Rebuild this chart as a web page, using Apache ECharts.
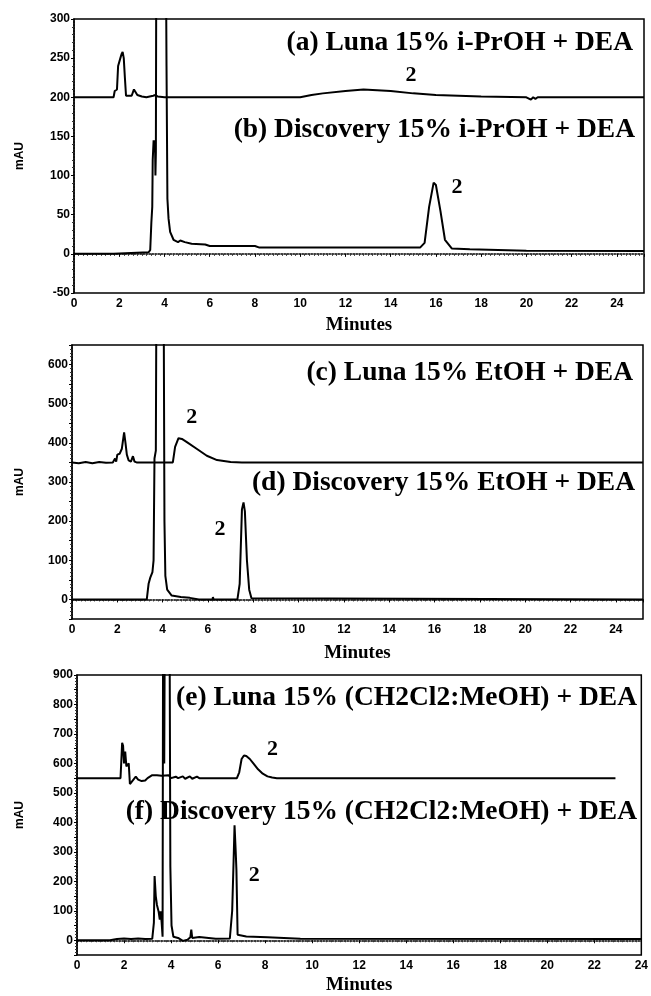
<!DOCTYPE html>
<html>
<head>
<meta charset="utf-8">
<script src="https://cdn.jsdelivr.net/npm/echarts@6/dist/echarts.min.js"></script>
<style>
html, body { margin: 0; padding: 0; background: #fff; }
#main { width: 651px; height: 996px; }
</style>
</head>
<body>
<div id="main"></div>
<script>
// chromatograms, [minutes, mAU]
const traceA = [[0,200],[1.75,200],[1.8,208],[1.9,210],[1.95,240],[2.05,250],[2.1,255],[2.15,258],[2.2,250],[2.25,225],[2.3,202],[2.55,202],[2.65,210],[2.72,212],[2.8,203],[3.0,201],[3.2,200],[3.5,202],[3.6,203],[3.7,201],[4.0,200],[10.0,200],[10.5,203],[11,205],[12,208],[12.8,210],[14,208],[15,205],[16,203],[17,202],[18,201],[20,200],[20.2,197],[20.3,200],[20.4,198],[20.5,200],[25.2,200]];
const traceB = [[0,0],[1.75,0],[1.8,2],[3.3,2],[3.37,5],[3.42,40],[3.46,60],[3.48,120],[3.52,145],[3.55,130],[3.58,145],[3.6,100],[3.62,130],[3.64,400],[4.06,400],[4.09,240],[4.13,70],[4.18,45],[4.25,28],[4.4,18],[4.6,15],[4.7,17],[4.9,15],[5.2,13],[5.8,12],[6.0,10],[8.0,10],[8.2,8],[15.3,8],[15.5,14],[15.7,60],[15.9,91],[16.0,88],[16.2,55],[16.4,18],[16.7,7],[17.5,6],[20,4],[25.2,3.5]];
const traceC = [[0,350],[0.3,348],[0.6,351],[0.9,348],[1.2,351],[1.5,349],[1.8,350],[1.9,360],[1.95,352],[2.0,370],[2.1,372],[2.2,385],[2.3,427],[2.36,400],[2.42,370],[2.5,355],[2.6,352],[2.69,366],[2.76,352],[2.85,350],[3.1,350],[3.15,355],[3.2,350],[4.45,350],[4.55,390],[4.7,412],[4.85,410],[5.07,402],[5.5,385],[5.95,367],[6.4,356],[7.0,351],[7.5,350],[25.2,350]];
const traceD = [[0,0],[3.3,0],[3.38,40],[3.45,55],[3.5,50],[3.55,70],[3.6,100],[3.64,360],[3.7,380],[3.72,700],[4.05,700],[4.08,200],[4.12,60],[4.2,25],[4.4,10],[4.8,6],[5.2,4],[5.6,0],[6.2,0],[6.22,6],[6.25,0],[7.3,0],[7.4,40],[7.5,230],[7.57,248],[7.63,225],[7.72,100],[7.82,25],[7.92,3],[8.0,0],[25.2,0]];
const traceE = [[0,550],[1.85,550],[1.88,600],[1.92,670],[1.96,660],[2.0,600],[2.05,640],[2.1,590],[2.15,595],[2.2,600],[2.25,530],[2.35,540],[2.5,555],[2.6,545],[2.75,540],[2.9,542],[3.0,550],[3.2,560],[3.4,560],[3.6,558],[3.9,560],[4.0,550],[4.2,555],[4.3,550],[4.5,556],[4.6,548],[4.8,556],[4.9,548],[5.1,555],[5.2,550],[6.8,550],[6.9,570],[7.0,615],[7.1,627],[7.2,625],[7.35,615],[7.5,600],[7.7,580],[7.9,565],[8.1,556],[8.3,552],[8.5,550],[22.9,550]];
const traceF = [[0,0],[1.4,0],[1.45,5],[1.7,4],[2.0,6],[2.3,4],[2.6,6],[2.9,4],[3.2,5],[3.27,60],[3.3,218],[3.35,150],[3.4,120],[3.47,98],[3.52,70],[3.56,98],[3.6,60],[3.64,12],[3.66,1000],[3.69,1000],[3.71,600],[3.73,1000],[3.94,1000],[3.97,250],[4.02,50],[4.1,12],[4.3,8],[4.5,-2],[4.7,2],[4.82,10],[4.86,36],[4.9,8],[5.2,11],[5.9,5],[6.5,6],[6.6,100],[6.66,270],[6.7,390],[6.75,300],[6.78,238],[6.83,19],[7.2,13],[8.1,10],[9.5,5],[24,4]];

// peak "2" annotations [minutes, mAU]
const peakLabels = [[14.9,228],[16.93,85],[5.28,464],[6.53,178],[8.31,647],[7.54,221]];
const panelTitles = ['(a) Luna 15% i-PrOH + DEA','(b) Discovery 15% i-PrOH + DEA','(c) Luna 15% EtOH + DEA','(d) Discovery 15% EtOH + DEA','(e) Luna 15% (CH2Cl2:MeOH) + DEA','(f) Discovery 15% (CH2Cl2:MeOH) + DEA'];

const yMin = [-50, -50, -50];
const yMax = [300, 650, 900];
const xMax = [25.2, 25.2, 24];

const grids = [
  { left: 74, top: 19, width: 570, height: 274 },
  { left: 72, top: 345, width: 571, height: 274 },
  { left: 77, top: 675, width: 567, height: 282 }
];
const nameGaps = [48, 46, 51];
const xNameGaps = [23, 25, 21];

const tickFont = { fontFamily: '"Liberation Sans", Arial, sans-serif', fontWeight: 'bold', fontSize: 12, color: '#000' };

const xAxes = grids.map((g, i) => ({
  gridIndex: i, type: 'value', min: 0, max: xMax[i], interval: 2,
  name: 'Minutes', nameLocation: 'middle', nameGap: xNameGaps[i],
  nameTextStyle: { fontFamily: '"Liberation Serif", "Times New Roman", serif', fontWeight: 'bold', fontSize: 19, color: '#000' },
  axisLine: { lineStyle: { color: '#000', width: 1.5, type: 'dotted' } },
  axisTick: { show: true, length: 3, lineStyle: { color: '#000' } },
  minorTick: { show: true, splitNumber: 10, length: 2, lineStyle: { color: '#333' } },
  axisLabel: Object.assign({ margin: 5, showMaxLabel: i === 2 }, tickFont),
  splitLine: { show: false }
}));

const yAxes = grids.map((g, i) => ({
  gridIndex: i, type: 'value', min: yMin[i], max: yMax[i], interval: 50,
  name: 'mAU', nameLocation: 'middle', nameRotate: 90, nameGap: nameGaps[i],
  nameTextStyle: { fontFamily: '"Liberation Sans", Arial, sans-serif', fontWeight: 'bold', fontSize: 12, color: '#000' },
  axisLine: { lineStyle: { color: '#000', width: 1.5, type: 'dotted' } },
  axisTick: { show: true, length: 3, lineStyle: { color: '#000' } },
  minorTick: { show: true, splitNumber: 5, length: 2, lineStyle: { color: '#333' } },
  axisLabel: Object.assign({
    margin: 4,
    formatter: v => (i === 0 ? String(v) : (v >= 0 && v % 100 === 0 ? String(v) : ''))
  }, tickFont),
  splitLine: { show: false }
}));

function trace(data, gi, label) {
  return {
    type: 'line', data: data, xAxisIndex: gi, yAxisIndex: gi,
    showSymbol: false, symbol: 'none', clip: true, smooth: false,
    lineStyle: { color: '#000', width: 2 },
    markPoint: {
      symbol: 'circle', symbolSize: 1,
      itemStyle: { color: 'rgba(0,0,0,0)' },
      label: { show: true, position: 'inside', formatter: '2', color: '#000',
        fontFamily: '"Liberation Serif", "Times New Roman", serif', fontWeight: 'bold', fontSize: 22 },
      data: [{ coord: label }]
    }
  };
}

const series = [
  trace(traceA, 0, peakLabels[0]),
  trace(traceB, 0, peakLabels[1]),
  trace(traceC, 1, peakLabels[2]),
  trace(traceD, 1, peakLabels[3]),
  trace(traceE, 2, peakLabels[4]),
  trace(traceF, 2, peakLabels[5])
];

const titlePos = [[633, 43], [635, 130], [633, 373], [635, 483], [637, 698], [637, 812]];
const graphic = panelTitles.map((t, i) => ({
  type: 'text', x: titlePos[i][0], y: titlePos[i][1], z: 100,
  style: { text: t, align: 'right', verticalAlign: 'middle', fill: '#000',
    font: 'bold 27.5px "Liberation Serif", "Times New Roman", serif' }
}));

const chart = echarts.init(document.getElementById('main'));
chart.setOption({
  animation: false,
  backgroundColor: '#fff',
  grid: grids.map(g => Object.assign({ show: true, borderColor: '#000', borderWidth: 1.5, backgroundColor: 'transparent' }, g)),
  xAxis: xAxes,
  yAxis: yAxes,
  series: series,
  graphic: graphic
});
</script>
</body>
</html>
